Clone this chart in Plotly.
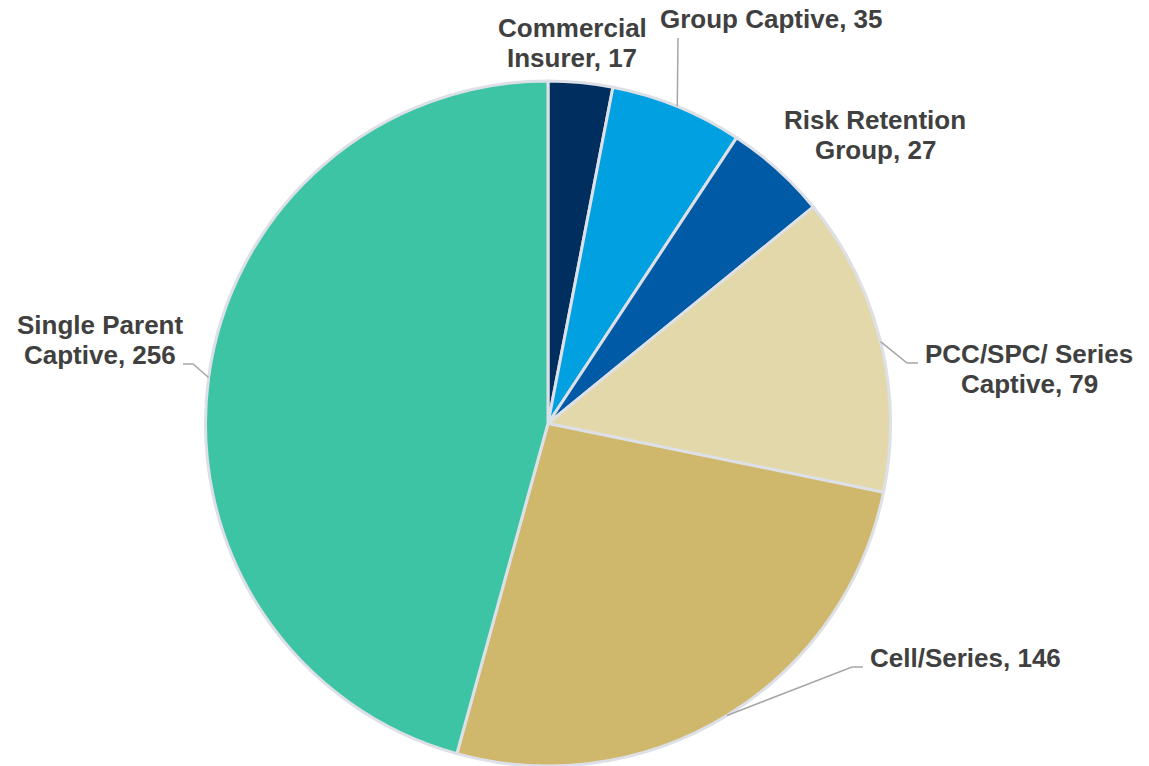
import math
import plotly.graph_objects as go

# ---- data ----
categories = ["Commercial Insurer", "Group Captive", "Risk Retention Group",
              "PCC/SPC/ Series Captive", "Cell/Series", "Single Parent Captive"]
values = [17, 35, 27, 79, 146, 256]
label_lines = [["Commercial", "Insurer, 17"],
               ["Group Captive, 35"],
               ["Risk Retention", "Group, 27"],
               ["PCC/SPC/ Series", "Captive, 79"],
               ["Cell/Series, 146"],
               ["Single Parent", "Captive, 256"]]
colors = ["#002F5F", "#00A0E1", "#005AA5", "#E3D8AA", "#CFB86B", "#3DC4A4"]

# ---- layout constants (pixels) ----
W, H = 1149, 766
dom_x = [205, 891]          # pie domain in px (left/right)
dom_y_top = 81              # pie domain top in px (bottom = H)
cx = (dom_x[0] + dom_x[1]) / 2
R = min(dom_x[1] - dom_x[0], H - dom_y_top) / 2
cy = H - R

# label centres (px) and line spacing
label_pos = [(572, 43), (771, 19), (875, 135), (1029, 369), (965, 658), (100, 340)]
line_gap = 30
# leader lines: None or list of extra points (px) after the slice-edge start
leader_pts = [None,
              [(678, 38)],
              None,
              [(907, 363), (918, 363)],
              [(852, 667), (863, 667)],
              [(193, 364), (183, 364)]]

def px(x):
    return x / W

def py(y):
    return 1 - y / H

fig = go.Figure(go.Pie(
    labels=categories, values=values, sort=False, direction="clockwise",
    rotation=0, textinfo="none", hoverinfo="label+value",
    marker=dict(colors=colors, line=dict(color="#DDE0E6", width=3)),
    domain=dict(x=[px(dom_x[0]), px(dom_x[1])], y=[0, py(dom_y_top)]),
    showlegend=False,
))

annotations = []
shapes = []
total = sum(values)
cum = 0
for i, v in enumerate(values):
    mid = (cum + v / 2) / total * 2 * math.pi
    cum += v
    lx, ly = label_pos[i]
    n = len(label_lines[i])
    for j, t in enumerate(label_lines[i]):
        annotations.append(dict(
            x=px(lx), y=py(ly + (j - (n - 1) / 2) * line_gap),
            xref="paper", yref="paper", text=t, showarrow=False,
            xanchor="center", yanchor="middle",
            font=dict(family="Liberation Sans, Arial, sans-serif", size=26,
                      color="#404040", weight="bold")))
    if leader_pts[i]:
        sx = cx + R * math.sin(mid)
        sy = cy - R * math.cos(mid)
        pts = [(sx, sy)] + leader_pts[i]
        path = "M " + " L ".join(f"{px(a):.5f},{py(b):.5f}" for a, b in pts)
        shapes.append(dict(type="path", path=path, xref="paper", yref="paper",
                           line=dict(color="#A6A6A6", width=1.5)))

fig.update_layout(
    width=W, height=H, margin=dict(l=0, r=0, t=0, b=0),
    paper_bgcolor="white", plot_bgcolor="white",
    annotations=annotations, shapes=shapes,
)
fig.write_html("out.html")
